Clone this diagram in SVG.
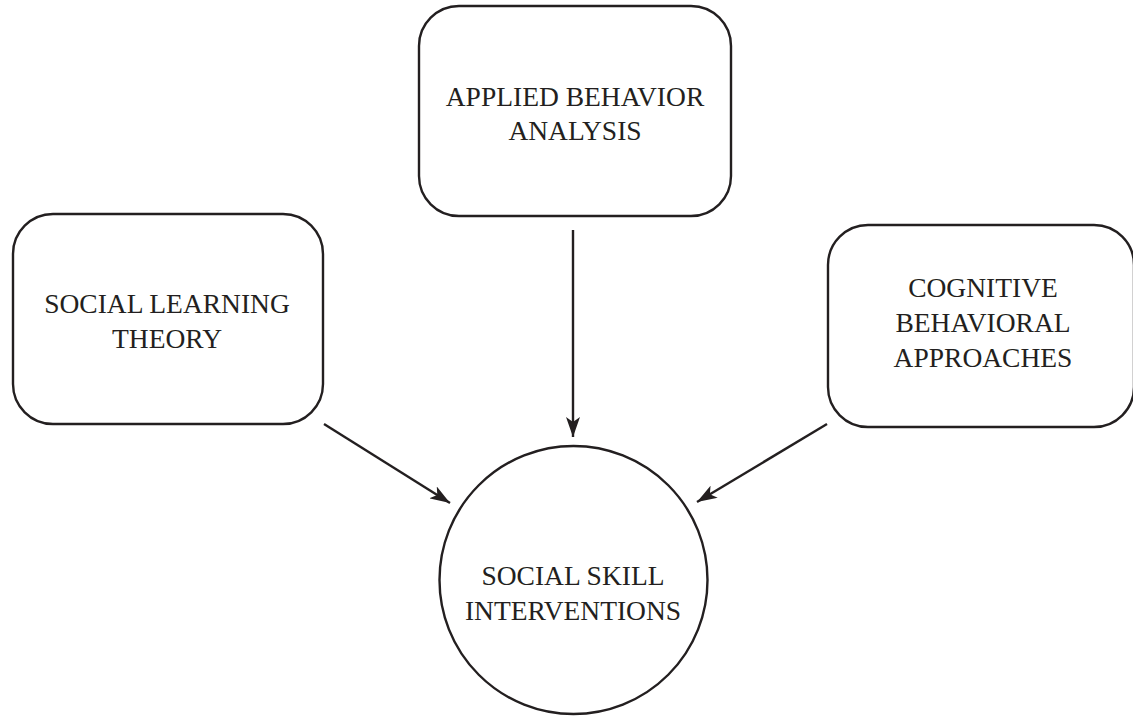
<svg xmlns="http://www.w3.org/2000/svg" width="1133" height="725" viewBox="0 0 1133 725">
<style>
.box{fill:#fff;stroke:#231f20;stroke-width:2.4}
.lbl{font-family:"Liberation Serif","Times New Roman",serif;font-size:27.5px;fill:#231f20;text-anchor:middle}
.con{stroke:#231f20;stroke-width:2.4;fill:none}
</style>
<defs>
<marker id="ah" viewBox="0 0 20 14" refX="20" refY="7" markerWidth="20" markerHeight="14" markerUnits="userSpaceOnUse" orient="auto">
<path d="M0,0 L20,7 L0,14 L5,7 Z" fill="#231f20"/>
</marker>
</defs>
<rect width="1133" height="725" fill="#fff"/>
<g id="aba">
<rect class="box" x="419" y="6" width="312" height="210" rx="40"/>
<text class="lbl" x="575" y="106">APPLIED BEHAVIOR</text>
<text class="lbl" x="575" y="140">ANALYSIS</text>
</g>
<g id="slt">
<rect class="box" x="13" y="214" width="310" height="210" rx="40"/>
<text class="lbl" x="167" y="313">SOCIAL LEARNING</text>
<text class="lbl" x="167" y="348">THEORY</text>
</g>
<g id="cba">
<rect class="box" x="828" y="225" width="306" height="202" rx="40"/>
<text class="lbl" x="983" y="297">COGNITIVE</text>
<text class="lbl" x="983" y="332">BEHAVIORAL</text>
<text class="lbl" x="983" y="367">APPROACHES</text>
</g>
<g id="ssi">
<circle class="box" cx="573.5" cy="580" r="134"/>
<text class="lbl" x="573" y="585">SOCIAL SKILL</text>
<text class="lbl" x="573" y="620">INTERVENTIONS</text>
</g>
<g id="connectors">
<line class="con" x1="573" y1="230" x2="573" y2="437" marker-end="url(#ah)"/>
<line class="con" x1="324" y1="424" x2="450" y2="503" marker-end="url(#ah)"/>
<line class="con" x1="827" y1="424" x2="697" y2="502" marker-end="url(#ah)"/>
</g>
</svg>
